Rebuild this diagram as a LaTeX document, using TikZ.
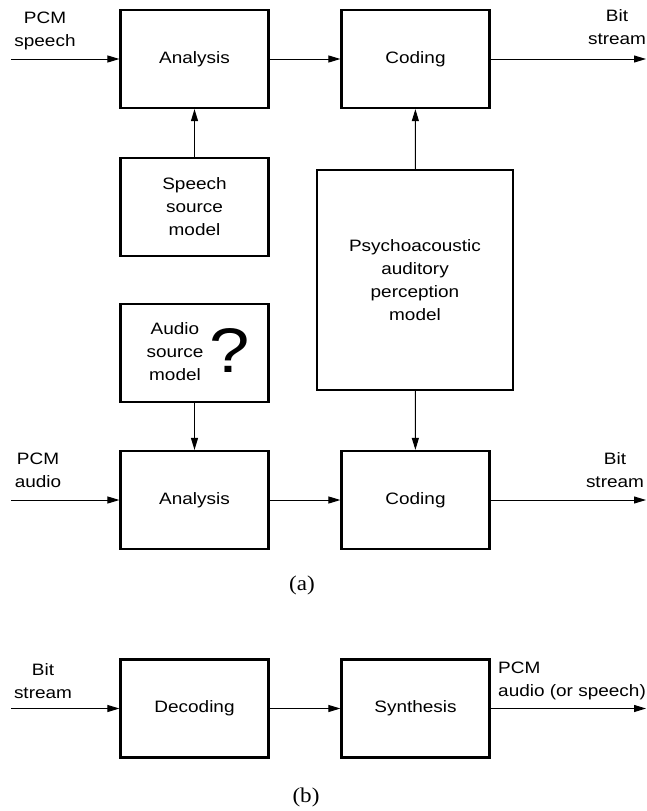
\documentclass[tikz,border=0pt]{standalone}
\usepackage{fontspec}
\setmainfont{Liberation Sans}[FakeStretch=1.15]
\newfontfamily\capfont{Liberation Serif}[FakeStretch=1.1]
\usetikzlibrary{arrows.meta,positioning}

\begin{document}
\begin{tikzpicture}[
    x=1pt, y=-1pt,
    font=\fontsize{16.5}{23}\selectfont,
    block/.style={draw=black, line width=2.2pt, align=center, minimum width=148pt, minimum height=98pt, inner sep=0pt},
    arrow/.style={-{Triangle[length=12pt,width=7pt]}, line width=1pt},
    lab/.style={align=center, inner sep=0pt},
    subcap/.style={inner sep=0pt, font=\capfont\fontsize{21}{24}\selectfont}
]
\useasboundingbox (0,0) rectangle (647,811);

% (a) speech coder
\node[block] (ana1) at (194.5,59) {Analysis};
\node[block] (cod1) at (415.5,59) {Coding};
\node[block] (spm) at (194.5,207) {Speech\\source\\model};
\node[block, minimum width=196pt, minimum height=220pt] (psy) at (415,280) {Psychoacoustic\\auditory\\perception\\model};

% (a) audio coder
\node[block] (asm) at (194.5,353) {};
\node[lab] (asmtext) at (175,351.5) {Audio\\source\\model};
\node[inner sep=0pt, font=\fontsize{63}{63}\selectfont] (qmark) at (230,351) {?};
\node[block] (ana2) at (194.5,500) {Analysis};
\node[block] (cod2) at (415.5,500) {Coding};

% (b) decoder
\node[block] (dec) at (194.5,708.5) {Decoding};
\node[block] (syn) at (415.5,708.5) {Synthesis};

\coordinate (in1) at (11,59);
\coordinate (out1) at (646,59);
\coordinate (in2) at (11,500);
\coordinate (out2) at (646,500);
\coordinate (in3) at (11,708.5);
\coordinate (out3) at (646,708.5);

\node[lab] (lin1) at (45,30.5) {PCM\\speech};
\node[lab] (lout1) at (617,27.5) {Bit\\stream};
\node[lab] (lin2) at (38,470.5) {PCM\\audio};
\node[lab] (lout2) at (615,470.5) {Bit\\stream};
\node[lab] (lin3) at (43,681) {Bit\\stream};
\node[lab, align=left, anchor=west] (lout3) at (498,681) {PCM\\audio (or speech)};

\draw[arrow] (in1) -- (ana1);
\draw[arrow] (ana1) -- (cod1);
\draw[arrow] (cod1) -- (out1);
\draw[arrow] (spm) -- (ana1);
\draw[arrow] (psy) -- (cod1);
\draw[arrow] (psy) -- (cod2);
\draw[arrow] (asm) -- (ana2);
\draw[arrow] (in2) -- (ana2);
\draw[arrow] (ana2) -- (cod2);
\draw[arrow] (cod2) -- (out2);
\draw[arrow] (in3) -- (dec);
\draw[arrow] (dec) -- (syn);
\draw[arrow] (syn) -- (out3);

\node[subcap] (capa) at (302,585) {(a)};
\node[subcap] (capb) at (306,797) {(b)};
\end{tikzpicture}
\end{document}
